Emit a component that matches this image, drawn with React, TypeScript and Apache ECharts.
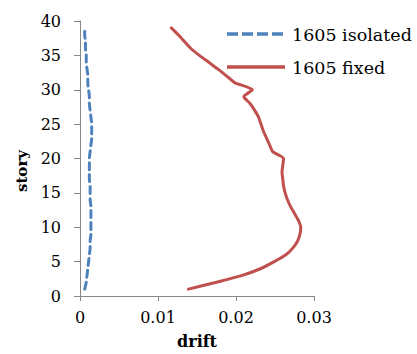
import React, { useEffect, useRef } from "react";
import * as echarts from "echarts";

const stories = [
  1, 2, 3, 4, 5, 6, 7, 8, 9, 10, 11, 12, 13, 14, 15, 16, 17, 18, 19, 20,
  21, 22, 23, 24, 25, 26, 27, 28, 29, 30, 31, 32, 33, 34, 35, 36, 37, 38, 39,
];

const isolatedDrift = [
  0.0006, 0.0008, 0.0009, 0.001, 0.0011, 0.0012, 0.0013, 0.0013, 0.0014, 0.0014,
  0.0014, 0.0014, 0.0014, 0.0013, 0.0013, 0.0013, 0.0012, 0.0012, 0.0012, 0.0012,
  0.0013, 0.0014, 0.0015, 0.0015, 0.0015, 0.0014, 0.0013, 0.0012, 0.0012, 0.0011,
  0.001, 0.001, 0.0009, 0.0008, 0.0008, 0.0007, 0.0007, 0.0006, 0.0006,
];

const fixedDrift = [
  0.0139, 0.0175, 0.0208, 0.0232, 0.0249, 0.0264, 0.0273, 0.0279, 0.0282, 0.0283,
  0.028, 0.0275, 0.027, 0.0266, 0.0263, 0.0261, 0.026, 0.0259, 0.026, 0.0261,
  0.0247, 0.0243, 0.0239, 0.0235, 0.0232, 0.0229, 0.0224, 0.0218, 0.021, 0.0221,
  0.0199, 0.0188, 0.0177, 0.0165, 0.0153, 0.0142, 0.0134, 0.0126, 0.0117,
];

const seriesNames = ["1605 isolated", "1605 fixed"];
const xTicks = { min: 0, max: 0.03, interval: 0.01 };
const yTicks = { min: 0, max: 40, interval: 5 };

const BLUE = "#4F81BD";
const RED = "#C0504D";
const FONT = "DejaVu Serif";

export default function App() {
  const ref = useRef<HTMLDivElement>(null);
  useEffect(() => {
    if (!ref.current) return;
    const chart = echarts.init(ref.current, null, { renderer: "svg" });
    const axisLineStyle = { color: "#868686", width: 1 };
    chart.setOption({
      animation: false,
      backgroundColor: "#ffffff",
      grid: { left: 80, right: 103, top: 21, bottom: 54, containLabel: false },
      xAxis: {
        type: "value",
        min: xTicks.min,
        max: xTicks.max,
        interval: xTicks.interval,
        name: "drift",
        nameLocation: "middle",
        nameGap: 37,
        nameTextStyle: { fontFamily: FONT, fontWeight: "bold", fontSize: 16, color: "#000" },
        axisLine: { show: true, lineStyle: axisLineStyle },
        axisTick: { show: true, inside: false, length: 5, lineStyle: axisLineStyle },
        axisLabel: { margin: 13, fontFamily: FONT, fontSize: 16, color: "#000" },
        splitLine: { show: false },
      },
      yAxis: {
        type: "value",
        min: yTicks.min,
        max: yTicks.max,
        interval: yTicks.interval,
        axisLine: { show: true, onZero: false, lineStyle: axisLineStyle },
        axisTick: { show: true, inside: false, length: 6, lineStyle: axisLineStyle },
        axisLabel: { margin: 19, fontFamily: FONT, fontSize: 16, color: "#000" },
        splitLine: { show: false },
      },
      series: [
        {
          name: seriesNames[0],
          type: "line",
          data: stories.map((s, i) => [isolatedDrift[i], s]),
          showSymbol: false,
          symbol: "none",
          smooth: 0.3,
          lineStyle: { color: BLUE, width: 3, type: [7, 5], cap: "round" },
        },
        {
          name: seriesNames[1],
          type: "line",
          data: stories.map((s, i) => [fixedDrift[i], s]),
          showSymbol: false,
          symbol: "none",
          smooth: 0.2,
          lineStyle: { color: RED, width: 3, cap: "round", join: "round" },
        },
      ],
      graphic: [
        {
          type: "line",
          shape: { x1: 227, y1: 34, x2: 285, y2: 34 },
          style: { stroke: BLUE, lineWidth: 3.5, lineDash: [11, 4] },
        },
        {
          type: "text",
          x: 292,
          y: 35,
          style: {
            text: seriesNames[0],
            fontFamily: FONT,
            fontSize: 17.5,
            fill: "#000",
            verticalAlign: "middle",
            align: "left",
          },
        },
        {
          type: "line",
          shape: { x1: 227, y1: 67, x2: 285, y2: 67 },
          style: { stroke: RED, lineWidth: 3.5 },
        },
        {
          type: "text",
          x: 292,
          y: 67.5,
          style: {
            text: seriesNames[1],
            fontFamily: FONT,
            fontSize: 17.5,
            fill: "#000",
            verticalAlign: "middle",
            align: "left",
          },
        },
        {
          type: "text",
          x: 22,
          y: 171,
          rotation: Math.PI / 2,
          style: {
            text: "story",
            fontFamily: FONT,
            fontWeight: "bold",
            fontSize: 15,
            fill: "#000",
            align: "center",
            verticalAlign: "middle",
          },
        },
      ],
    });
    return () => chart.dispose();
  }, []);
  return <div ref={ref} style={{ width: 417, height: 354, position: "absolute", left: 0, top: 0 }} />;
}
